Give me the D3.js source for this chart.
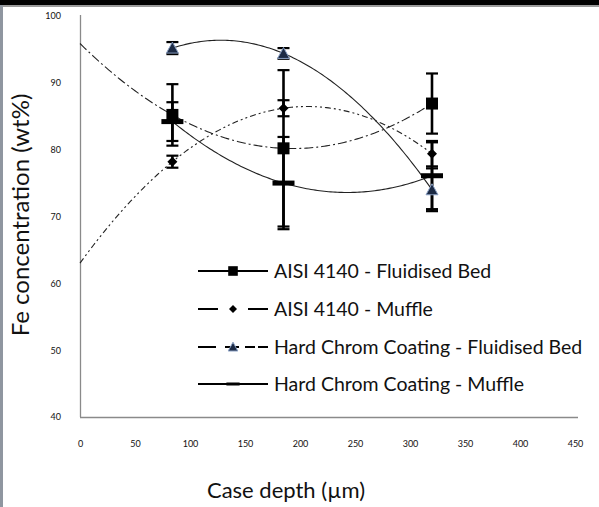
<!DOCTYPE html>
<html>
<head>
<meta charset="utf-8">
<script src="https://cdn.jsdelivr.net/npm/d3@7"></script>
<style>
  html, body { margin: 0; padding: 0; background: #fff; }
  svg { display: block; }
  text { font-family: Lato, "Open Sans", sans-serif; fill: #111; }
</style>
</head>
<body>
<svg id="chart" width="599" height="507"></svg>
<script>
// Case depth (µm) of each measurement
const depth = [84, 185, 320];

// Fe concentration (wt%) and standard deviation per series
const fluidBed4140 = [85.2, 80.2, 86.9];
const fluidBed4140Err = [4.6, 11.7, 4.5];
const muffle4140 = [78.2, 86.2, 79.4];
const muffle4140Err = [0.9, 1.2, 1.9];
const fluidBedHC = [95.2, 94.4, 74.0];
const fluidBedHCErr = [0.9, 0.8, 3.2];
const muffleHC = [84.2, 75.0, 76.1];
const muffleHCErr = [2.9, 6.9, 5.0];

const seriesNames = [
  "AISI 4140 - Fluidised Bed",
  "AISI 4140 - Muffle",
  "Hard Chrom Coating - Fluidised Bed",
  "Hard Chrom Coating - Muffle"
];

const xTicks = [0, 50, 100, 150, 200, 250, 300, 350, 400, 450];
const yTicks = [40, 50, 60, 70, 80, 90, 100];

const series = [
  { name: seriesNames[0], values: fluidBed4140, err: fluidBed4140Err, marker: "square",
    fitFrom: 0, fitDash: "9,3,2,3", legendDash: null },
  { name: seriesNames[1], values: muffle4140, err: muffle4140Err, marker: "diamond",
    fitFrom: 0, fitDash: "6,3,2,3,2,3", legendDash: "20,30,20" },
  { name: seriesNames[2], values: fluidBedHC, err: fluidBedHCErr, marker: "triangle",
    fitFrom: 84, fitDash: null, legendDash: "18,9,14,6,10,3,12" },
  { name: seriesNames[3], values: muffleHC, err: muffleHCErr, marker: "bar",
    fitFrom: 84, fitDash: null, legendDash: null }
];

const svg = d3.select("#chart");

// window frame
svg.append("rect").attr("x", 0).attr("y", 0).attr("width", 599).attr("height", 5).attr("fill", "#000");
svg.append("rect").attr("x", 0).attr("y", 5).attr("width", 599).attr("height", 2).attr("fill", "#9a9a9a");
svg.append("rect").attr("x", 0).attr("y", 5).attr("width", 3).attr("height", 502).attr("fill", "#8f96a0");

const x = d3.scaleLinear().domain([0, 450]).range([80, 575]);
const y = d3.scaleLinear().domain([40, 100]).range([417, 16]);

// axes
const xAxis = svg.append("g").attr("transform", `translate(0,${y(40)})`)
  .call(d3.axisBottom(x).tickValues(xTicks).tickSize(0).tickPadding(24));
xAxis.select(".domain").attr("stroke", "#8a8a8a").attr("stroke-width", 1.3)
  .attr("d", `M${x(0)},0.5H578`);
xAxis.selectAll("text").attr("font-size", 9).attr("font-family", "Lato, sans-serif").attr("fill", "#111");

const yAxis = svg.append("g").attr("transform", `translate(${x(0)},0)`)
  .call(d3.axisLeft(y).tickValues(yTicks).tickSize(0).tickPadding(19));
yAxis.select(".domain").attr("stroke", "#8a8a8a").attr("stroke-width", 1.3)
  .attr("d", `M0.5,15V${y(40)}`);
yAxis.selectAll("text").attr("font-size", 9).attr("font-family", "Lato, sans-serif").attr("fill", "#111");

// axis titles
svg.append("text").attr("x", 286).attr("y", 498).attr("text-anchor", "middle")
  .attr("font-size", 22).attr("fill", "#2a2a2a").text("Case depth (µm)");
svg.append("text").attr("transform", "translate(29,215) rotate(-90)").attr("text-anchor", "middle")
  .attr("font-size", 24).attr("fill", "#2a2a2a").text("Fe concentration (wt%)");

// second-order polynomial through the three points of a series
function quadFit(xs, ys) {
  const [x0, x1, x2] = xs, [y0, y1, y2] = ys;
  const d01 = (y1 - y0) / (x1 - x0);
  const d12 = (y2 - y1) / (x2 - x1);
  const d012 = (d12 - d01) / (x2 - x0);
  return t => y0 + d01 * (t - x0) + d012 * (t - x0) * (t - x1);
}

const fitLine = d3.line().x(d => x(d[0])).y(d => y(d[1]));
series.forEach(s => {
  const f = quadFit(depth, s.values);
  const pts = d3.range(s.fitFrom, 320.01, 2).map(t => [t, f(t)]);
  svg.append("path").attr("d", fitLine(pts)).attr("fill", "none")
    .attr("stroke", "#222").attr("stroke-width", 1.1)
    .attr("stroke-dasharray", s.fitDash);
});

// error bars
series.forEach(s => {
  const g = svg.append("g");
  depth.forEach((d, i) => {
    const cx = x(d), hi = y(s.values[i] + s.err[i]), lo = y(s.values[i] - s.err[i]);
    g.append("line").attr("x1", cx).attr("x2", cx).attr("y1", hi).attr("y2", lo)
      .attr("stroke", "#000").attr("stroke-width", 2.6);
    [hi, lo].forEach(yy => g.append("line").attr("x1", cx - 6).attr("x2", cx + 6)
      .attr("y1", yy).attr("y2", yy).attr("stroke", "#000").attr("stroke-width", 2.2));
  });
});

// point markers
function drawMarker(g, type, cx, cy, scale) {
  const k = scale || 1;
  if (type === "square") {
    g.append("rect").attr("x", cx - 6 * k).attr("y", cy - 6 * k).attr("width", 12 * k).attr("height", 12 * k).attr("fill", "#000");
  } else if (type === "diamond") {
    g.append("path").attr("d", `M${cx},${cy - 5 * k}L${cx + 5 * k},${cy}L${cx},${cy + 5 * k}L${cx - 5 * k},${cy}Z`).attr("fill", "#000");
  } else if (type === "triangle") {
    g.append("path").attr("d", `M${cx},${cy - 6 * k}L${cx + 6 * k},${cy + 5 * k}L${cx - 6 * k},${cy + 5 * k}Z`)
      .attr("fill", "#1c2a44").attr("stroke", "#8aa0c4").attr("stroke-width", 1);
  } else if (type === "bar") {
    g.append("rect").attr("x", cx - 11 * k).attr("y", cy - 2.5 * k).attr("width", 22 * k).attr("height", 5 * k).attr("fill", "#000");
  }
}
series.forEach(s => {
  const g = svg.append("g");
  depth.forEach((d, i) => drawMarker(g, s.marker, x(d), y(s.values[i])));
});

// legend
const legend = svg.append("g");
const rowY = [271, 309, 347, 384];
series.forEach((s, i) => {
  const ly = rowY[i];
  legend.append("line").attr("x1", 198).attr("x2", 268).attr("y1", ly).attr("y2", ly)
    .attr("stroke", "#000").attr("stroke-width", 2.2).attr("stroke-dasharray", s.legendDash);
  const k = s.marker === "square" ? 0.8 : (s.marker === "bar" ? 0.6 : 0.8);
  drawMarker(legend, s.marker, 233, ly, k);
  legend.append("text").attr("x", 274).attr("y", ly + 7).attr("font-size", 19.5)
    .attr("fill", "#111").text(s.name);
});
</script>
</body>
</html>
